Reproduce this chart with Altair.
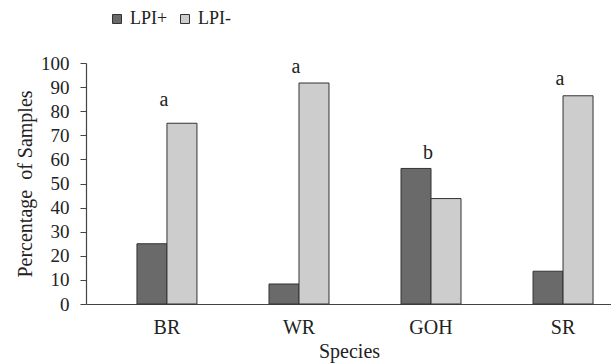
import altair as alt
import pandas as pd

species = ["BR", "WR", "GOH", "SR"]
lpi_pos = [25.0, 8.3, 56.25, 13.6]
lpi_neg = [75.0, 91.7, 43.75, 86.4]
letters = ["a", "a", "b", "a"]
letter_y = [84.5, 98.3, 62.7, 93.4]
series = ["LPI+", "LPI-"]

rows = []
for i, s in enumerate(species):
    rows.append({"Species": s, "Group": series[0], "Value": lpi_pos[i]})
    rows.append({"Species": s, "Group": series[1], "Value": lpi_neg[i]})
df = pd.DataFrame(rows)
ldf = pd.DataFrame({"Species": species, "Letter": letters, "Y": letter_y})

FONT = "Liberation Serif"
xscale = alt.Scale(domain=species, range=[0, 558], paddingInner=0.5455, paddingOuter=0.386)
yscale = alt.Scale(domain=[0, 100])

xaxis = alt.Axis(title="Species", labelAngle=0, ticks=False, labelPadding=13,
                 labelFontSize=20, titleFontSize=20, titlePadding=4, titleX=263,
                 domainColor="#444444", domainWidth=1.2)
yaxis = alt.Axis(title="Percentage\u00a0\u00a0of Samples", values=list(range(0, 101, 10)),
                 labelOverlap=False, grid=False, tickSize=6, labelPadding=11,
                 labelFontSize=19, titleFontSize=20, titlePadding=5,
                 domainColor="#444444", tickColor="#444444", domainWidth=1.2)

bars = alt.Chart(df).mark_bar(stroke="#333333", strokeWidth=1).encode(
    x=alt.X("Species:N", scale=xscale, sort=species, axis=xaxis),
    xOffset=alt.XOffset("Group:N", sort=series),
    y=alt.Y("Value:Q", scale=yscale, axis=yaxis),
    color=alt.Color("Group:N", sort=series,
                    scale=alt.Scale(domain=series, range=["#6a6a6a", "#cdcdcd"]),
                    legend=alt.Legend(title=None, orient="none", legendX=22, legendY=-53,
                                      direction="horizontal", symbolType="square",
                                      symbolSize=81, symbolStrokeColor="#333333",
                                      symbolStrokeWidth=1, labelFontSize=18,
                                      columnPadding=8, labelOffset=4)),
)

text = alt.Chart(ldf).mark_text(font=FONT, fontSize=20, color="#222222", baseline="middle", dx=-3).encode(
    x=alt.X("Species:N", scale=xscale, sort=species, axis=xaxis),
    y=alt.Y("Y:Q", scale=yscale, axis=yaxis),
    text="Letter:N",
)

chart = alt.layer(bars, text).properties(
    width=525, height=241,
    background="white",
    autosize=alt.AutoSizeParams(type="none"),
    padding={"left": 86, "top": 63, "right": 0, "bottom": 59},
).configure_view(stroke=None).configure_axis(
    labelFont=FONT, titleFont=FONT, titleFontWeight="normal",
    labelColor="#222222", titleColor="#222222",
).configure_legend(labelFont=FONT, labelColor="#222222")

chart.save("out.html", embed_options={"renderer": "svg", "actions": False})
